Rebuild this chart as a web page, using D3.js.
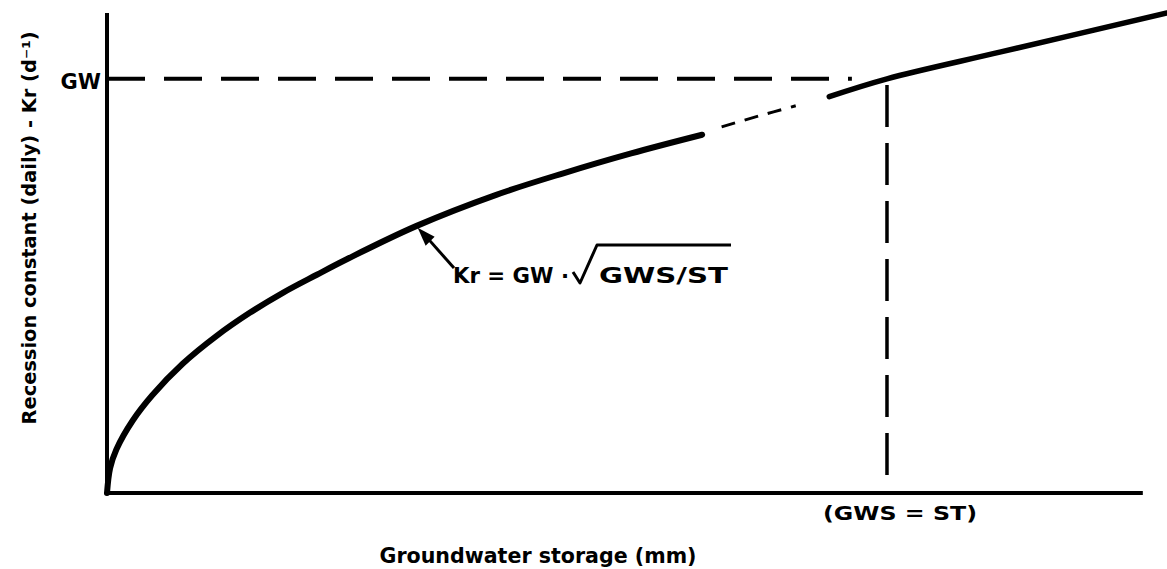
<!DOCTYPE html>
<html>
<head>
<meta charset="utf-8">
<script src="https://cdn.jsdelivr.net/npm/d3@7"></script>
<style>
  body { margin: 0; background: #fff; }
  text { font-family: "DejaVu Sans", sans-serif; font-weight: bold; fill: #000; }
</style>
</head>
<body>
<svg width="1167" height="569"></svg>
<script>
// values: x = GWS/ST, y = Kr/GW
var solidLow = [[0,0],[0.004,0.06],[0.012,0.105],[0.033,0.175],[0.058,0.236],[0.097,0.312],
  [0.141,0.38],[0.183,0.435],[0.226,0.484],[0.269,0.527],[0.308,0.565],[0.397,0.645],
  [0.499,0.72],[0.585,0.772],[0.672,0.82],[0.763,0.865]];
var dashedMid = [[0.788,0.884],[0.835,0.910],[0.883,0.935]];
var solidHigh = [[0.926,0.957],[1.0,1.0],[1.146,1.065],[1.359,1.159]];
var gwLevel = 1.0, stLevel = 1.0;
var xAxisEnd = 1.328, yAxisTop = 1.159;

var svg = d3.select("svg");
var x = d3.scaleLinear().domain([0, 1.359]).range([107, 1167]);
var y = d3.scaleLinear().domain([0, 1.159]).range([493, 13]);

var line = d3.line()
    .x(function(d) { return x(d[0]); })
    .y(function(d) { return y(d[1]); })
    .curve(d3.curveCatmullRom.alpha(0.5));

// axes (plain lines, no ticks)
svg.append("line")
    .attr("x1", x(0)).attr("x2", x(0))
    .attr("y1", y(0) + 2).attr("y2", y(yAxisTop))
    .attr("stroke", "#000").attr("stroke-width", 4);
svg.append("line")
    .attr("x1", x(0) - 2).attr("x2", x(xAxisEnd))
    .attr("y1", y(0)).attr("y2", y(0))
    .attr("stroke", "#000").attr("stroke-width", 4);

// guide lines GW and GWS = ST
svg.append("line")
    .attr("x1", x(0)).attr("x2", x(0.955))
    .attr("y1", y(gwLevel)).attr("y2", y(gwLevel))
    .attr("stroke", "#000").attr("stroke-width", 4)
    .attr("stroke-dasharray", "38,19");
svg.append("line")
    .attr("x1", x(stLevel)).attr("x2", x(stLevel))
    .attr("y1", y(0.985)).attr("y2", y(0))
    .attr("stroke", "#000").attr("stroke-width", 3.5)
    .attr("stroke-dasharray", "42,16");

// curve
svg.append("path").datum(solidLow)
    .attr("d", line).attr("fill", "none")
    .attr("stroke", "#000").attr("stroke-width", 6).attr("stroke-linecap", "round");
svg.append("path").datum(dashedMid)
    .attr("d", line).attr("fill", "none")
    .attr("stroke", "#000").attr("stroke-width", 3)
    .attr("stroke-dasharray", "14,10");
svg.append("path").datum(solidHigh)
    .attr("d", line).attr("fill", "none")
    .attr("stroke", "#000").attr("stroke-width", 5.5).attr("stroke-linecap", "round");

// labels
svg.append("text")
    .attr("x", x(0) - 6).attr("y", y(gwLevel) + 10)
    .attr("text-anchor", "end").attr("font-size", 21)
    .text("GW");

svg.append("text")
    .attr("x", 900).attr("y", 520)
    .attr("text-anchor", "middle").attr("font-size", 20)
    .attr("textLength", 154).attr("lengthAdjust", "spacingAndGlyphs")
    .text("(GWS = ST)");

svg.append("text")
    .attr("x", 538).attr("y", 563)
    .attr("text-anchor", "middle").attr("font-size", 22)
    .attr("textLength", 317).attr("lengthAdjust", "spacingAndGlyphs")
    .text("Groundwater storage (mm)");

svg.append("text")
    .attr("transform", "translate(36,228) rotate(-90)")
    .attr("text-anchor", "middle").attr("font-size", 19)
    .attr("textLength", 393).attr("lengthAdjust", "spacingAndGlyphs")
    .text("Recession constant (daily) - Kr (d\u207B\u00B9)");

// formula with arrow
var ax = x(0.397), ay = y(0.645);
svg.append("line")
    .attr("x1", 454).attr("y1", 268).attr("x2", ax + 8).attr("y2", ay + 9)
    .attr("stroke", "#000").attr("stroke-width", 3);
svg.append("path")
    .attr("d", "M" + (ax + 1) + "," + (ay + 2) + " L" + (ax + 18) + "," + (ay + 11) + " L" + (ax + 9) + "," + (ay + 20) + " Z")
    .attr("fill", "#000");

svg.append("text")
    .attr("x", 453).attr("y", 283).attr("font-size", 21)
    .attr("textLength", 116).attr("lengthAdjust", "spacingAndGlyphs")
    .text("Kr = GW \u00B7");
svg.append("path")
    .attr("d", "M573,272 L580,283 L597,245 L731,245")
    .attr("fill", "none").attr("stroke", "#000").attr("stroke-width", 3)
    .attr("stroke-linejoin", "round");
svg.append("text")
    .attr("x", 599).attr("y", 283).attr("font-size", 21)
    .attr("textLength", 129).attr("lengthAdjust", "spacingAndGlyphs")
    .text("GWS/ST");
</script>
</body>
</html>
